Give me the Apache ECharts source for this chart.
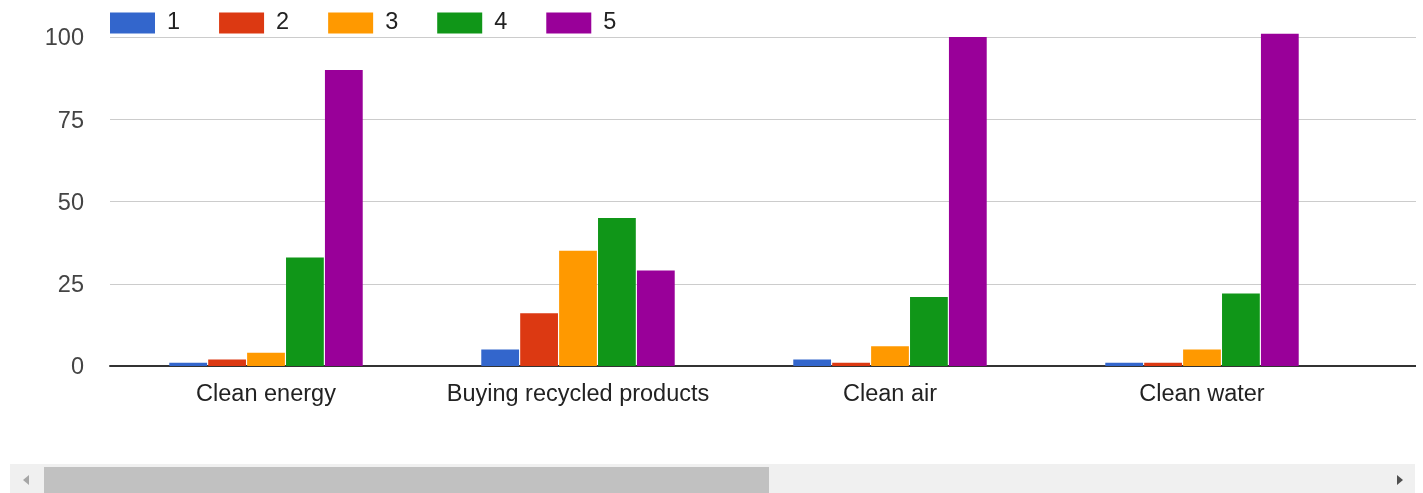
<!DOCTYPE html>
<html>
<head>
<meta charset="utf-8">
<script src="https://cdn.jsdelivr.net/npm/echarts@6/dist/echarts.min.js"></script>
<style>
html,body{margin:0;padding:0;background:#fff;width:1423px;height:493px;overflow:hidden;font-family:"Liberation Sans",Arial,sans-serif}
#clip{position:absolute;left:0;top:0;width:1416px;height:460px;overflow:hidden}
#chart{width:1700px;height:460px}
#track{position:absolute;left:10px;top:464px;width:1405px;height:29px;background:#f0f0f0}
#thumb{position:absolute;left:44px;top:467px;width:725px;height:26px;background:#c1c1c1}
#arrL{position:absolute;left:23px;top:475px;width:0;height:0;border-top:5px solid transparent;border-bottom:5px solid transparent;border-right:6px solid #a6a6a6}
#arrR{position:absolute;left:1397px;top:475px;width:0;height:0;border-top:5px solid transparent;border-bottom:5px solid transparent;border-left:6px solid #505050}
</style>
</head>
<body>
<div id="clip"><div id="chart"></div></div>
<div id="track"></div>
<div id="thumb"></div>
<div id="arrL"></div>
<div id="arrR"></div>
<script>
const categories = ['Clean energy', 'Buying recycled products', 'Clean air', 'Clean water'];
const seriesNames = ['1', '2', '3', '4', '5'];
const values1 = [1, 5, 2, 1];
const values2 = [2, 16, 1, 1];
const values3 = [4, 35, 6, 5];
const values4 = [33, 45, 21, 22];
const values5 = [90, 29, 100, 101];
const colors = ['#3366cc', '#dc3912', '#ff9900', '#109618', '#990099'];

const allValues = [values1, values2, values3, values4, values5];
const font = '"Liberation Sans", Arial, sans-serif';

const chart = echarts.init(document.getElementById('chart'), null, {renderer: 'canvas'});
chart.setOption({
  animation: false,
  color: colors,
  textStyle: {fontFamily: font},
  legend: {
    left: 110,
    top: 11,
    padding: 0,
    icon: 'rect',
    itemWidth: 45,
    itemHeight: 21,
    itemGap: 39,
    textStyle: {fontSize: 23.5, color: '#222', fontFamily: font, padding: [0, 0, 0, 7]},
    data: seriesNames
  },
  grid: {left: 110, right: 30, top: 37, bottom: 94, containLabel: false},
  xAxis: {
    type: 'category',
    data: categories,
    max: categories.length,
    axisLine: {lineStyle: {color: '#333', width: 2}},
    axisTick: {show: false},
    axisLabel: {
      fontSize: 23.5, color: '#222', fontFamily: font, margin: 17, interval: 0,
      formatter: v => (v == null || v === 'undefined') ? '' : v
    },
    splitLine: {show: false}
  },
  yAxis: {
    type: 'value',
    min: 0,
    max: 100,
    interval: 25,
    axisLine: {show: false},
    axisTick: {show: false},
    axisLabel: {
      margin: 26,
      formatter: v => '{t|' + v + '}',
      rich: {t: {fontSize: 23.5, color: '#444', fontFamily: font, padding: [4, 0, 0, 0]}}
    },
    splitLine: {lineStyle: {color: '#cccccc', width: 1}}
  },
  series: seriesNames.map((name, i) => ({
    name: name,
    type: 'bar',
    data: allValues[i],
    barCategoryGap: '38%',
    barGap: '3%',
    clip: false,
    itemStyle: {color: colors[i]}
  }))
});
</script>
</body>
</html>
